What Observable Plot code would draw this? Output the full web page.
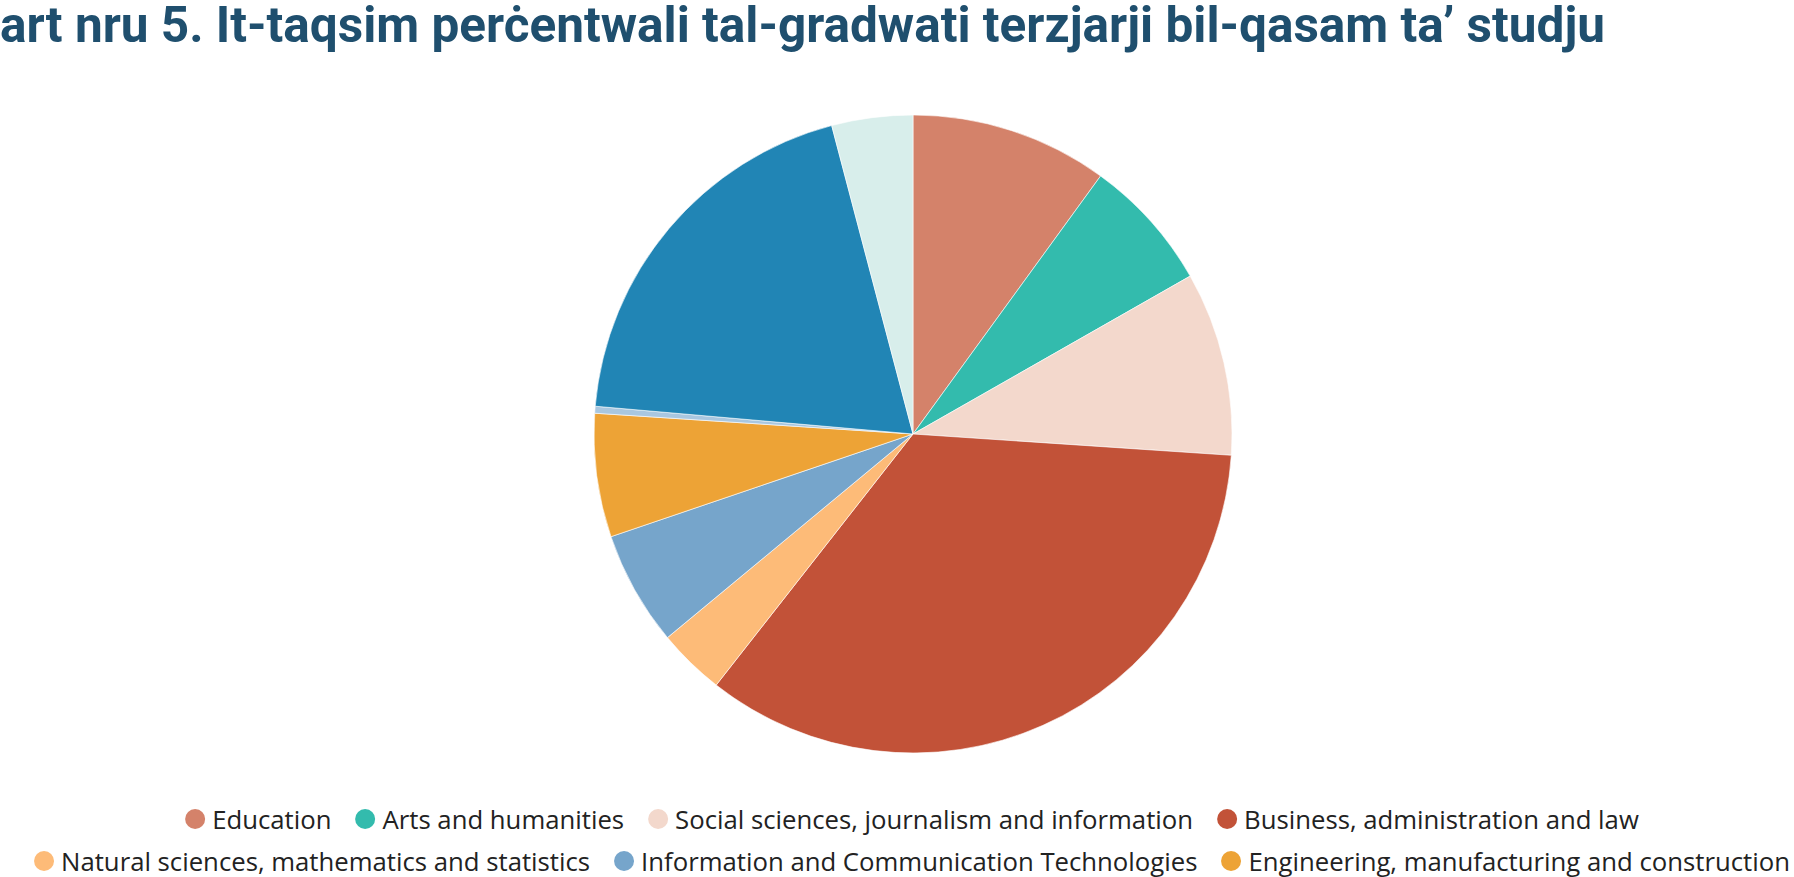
<!DOCTYPE html>
<html>
<head>
<meta charset="utf-8">
<script src="https://cdn.jsdelivr.net/npm/d3@7"></script>
<script src="https://cdn.jsdelivr.net/npm/@observablehq/plot@0.6"></script>
<style>
  html, body { margin: 0; padding: 0; background: #fff; width: 1794px; height: 877px; overflow: hidden; position: relative; }
  #title { position: absolute; top: 0; left: 0; white-space: nowrap; font-family: Roboto, sans-serif; font-weight: 700;
           font-size: 50px; line-height: 50px; color: #1f4f6e; transform-origin: 0 0; }
  #chart { position: absolute; left: 0; top: 60px; }
  #legend { position: absolute; left: 0; top: 0; width: 1794px; }
  .lrow { position: absolute; left: 912px; display: flex; white-space: nowrap; transform: translateX(-50%); align-items: center; height: 30px; }
  .litem { display: flex; align-items: center; margin: 0 12px; font-family: "Open Sans", sans-serif; color: #222; }
  .ldot { width: 20px; height: 20px; border-radius: 50%; margin-right: 7px; flex: none; }
</style>
</head>
<body>
<div id="title"><span id="tpre">Ch</span><span id="trest">art nru 5. It-taqsim perċentwali tal-gradwati terzjarji bil-qasam ta’ studju</span></div>
<div id="chart"></div>
<div id="legend"></div>
<script>
const categories = [
  "Education",
  "Arts and humanities",
  "Social sciences, journalism and information",
  "Business, administration and law",
  "Natural sciences, mathematics and statistics",
  "Information and Communication Technologies",
  "Engineering, manufacturing and construction",
  "Agriculture, forestry, fisheries and veterinary",
  "Health and welfare",
  "Services"
];
const shares = [10.0, 6.75, 9.3, 34.5, 3.4, 5.8, 6.25, 0.35, 19.5, 4.1];
const colors = ["#d4826a", "#33bbad", "#f3d8cc", "#c25238", "#fdbb78", "#76a5cb", "#eda336", "#a9c7e0", "#2185b5", "#d8eeeb"];
const legendRows = [4, 3, 3];

const data = categories.map((name, i) => ({name, value: shares[i]}));
const color = Plot.scale({color: {type: "ordinal", domain: categories, range: colors}});

const W = 1794, H = 740;
const cx = 913, cy = 434 - 60, R = 319;

const pieMark = (index, scales, values, dimensions) => {
  const arcs = d3.pie().sort(null).value(d => d.value)(data);
  const arc = d3.arc().innerRadius(0).outerRadius(R);
  const g = d3.create("svg:g").attr("transform", `translate(${cx},${cy})`);
  g.selectAll("path").data(arcs).join("path")
    .attr("d", arc)
    .attr("fill", d => color.apply(d.data.name))
    .attr("stroke", "#fff")
    .attr("stroke-width", 0.6)
    .attr("stroke-linejoin", "round");
  return g.node();
};

const plot = Plot.plot({
  width: W,
  height: H,
  margin: 0,
  x: {axis: null, domain: [0, 1]},
  y: {axis: null, domain: [0, 1]},
  marks: [pieMark]
});
document.getElementById("chart").appendChild(plot);

// Legend
const legend = d3.select("#legend");
let k = 0;
const rowsEl = [];
legendRows.forEach((n, r) => {
  const row = legend.append("div").attr("class", "lrow").style("top", (819 - 15 + r * 42) + "px");
  rowsEl.push(row.node());
  for (let j = 0; j < n; j++, k++) {
    const item = row.append("div").attr("class", "litem");
    item.append("div").attr("class", "ldot").style("background", color.apply(categories[k]));
    item.append("span").text(categories[k]);
  }
});
// fit legend font so the first row spans its reference width
let fs = 19;
for (let it = 0; it < 4; it++) {
  legend.selectAll(".litem").style("font-size", fs + "px");
  const w = rowsEl[0].getBoundingClientRect().width - 24;
  const fixed = 4 * 27 + 3 * 24;
  fs = fs * (1453 - fixed) / (w - fixed);
}
legend.selectAll(".litem").style("font-size", fs + "px");

// Title fit: visible part ends at x=1605
const t = document.getElementById("title");
const pre = document.getElementById("tpre").getBoundingClientRect().width;
const rest = document.getElementById("trest").getBoundingClientRect().width;
const s = 1605 / rest;
t.style.transform = `translateX(${-pre * s}px) scaleX(${s})`;
</script>
</body>
</html>
